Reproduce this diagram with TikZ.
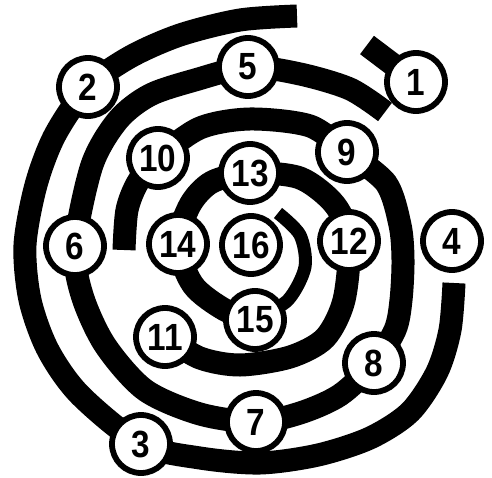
\documentclass[tikz,border=0pt]{standalone}
\usepackage{fontspec}
\newfontfamily\numfont[FakeStretch=0.88]{Liberation Sans}
\usetikzlibrary{backgrounds}
\begin{document}
\begin{tikzpicture}[x=1bp,y=-1bp,
  band/.style={line width=23bp, black},
  thinband/.style={line width=13bp, black},
  num/.style={circle, draw=black, line width=5.8bp, fill=white,
    minimum size=58bp, inner sep=0pt,
    font=\numfont\bfseries\fontsize{38}{38}\selectfont}]
\useasboundingbox (0,0) rectangle (492,478);
\node[num] (n1) at (416,82) {1};
\node[num] (n2) at (88,87) {2};
\node[num] (n3) at (141,444) {3};
\node[num] (n4) at (452,241) {4};
\node[num] (n5) at (248,67) {5};
\node[num] (n6) at (75,246) {6};
\node[num] (n7) at (256,422) {7};
\node[num] (n8) at (374,363) {8};
\node[num] (n9) at (347,152) {9};
\node[num] (n10) at (158,158) {10};
\node[num] (n11) at (165,337) {11};
\node[num] (n12) at (349,241) {12};
\node[num] (n13) at (250,173) {13};
\node[num] (n14) at (178,244) {14};
\node[num] (n15) at (255,320) {15};
\node[num] (n16) at (251,245) {16};
\coordinate (a0) at (367,45);
\coordinate (b0) at (297,16);
\coordinate (b1) at (454,283);
\coordinate (c0) at (385,112);
\coordinate (d1) at (124,250);
\coordinate (e1) at (278,213);
\begin{scope}[on background layer]
\draw[band] (a0) -- (n1.center);
\draw[band] plot[smooth] coordinates {(b0) (240,20) (180,35) (130,57) (n2.center) (55,135) (36,185) (25,245) (30,300) (48,350) (80,395) (n3.center) (200,458) (260,463) (318,455) (370,438) (410,412) (437,372) (450,330) (b1)};
\draw[band] plot[smooth] coordinates {(c0) (350,89) (300,74) (n5.center) (195,80) (150,95) (118,120) (92,165) (n6.center) (82,295) (105,345) (145,390) (200,414) (n7.center) (300,413) (340,395) (n8.center) (395,330) (401,300) (403,260) (400,225) (386,183) (n9.center)};
\draw[band] plot[smooth] coordinates {(n9.center) (310,126) (250,119) (200,128) (n10.center) (138,182) (127,210) (d1)};
\draw[band] plot[smooth] coordinates {(n11.center) (200,358) (240,365) (290,357) (325,338) (344,300) (n12.center) (335,205) (300,178) (n13.center) (212,182) (190,205) (n14.center) (193,285) (225,310) (n15.center)};
\draw[thinband] plot[smooth] coordinates {(n15.center) (288,300) (305,267) (300,235) (e1)};
\end{scope}
\end{tikzpicture}
\end{document}
